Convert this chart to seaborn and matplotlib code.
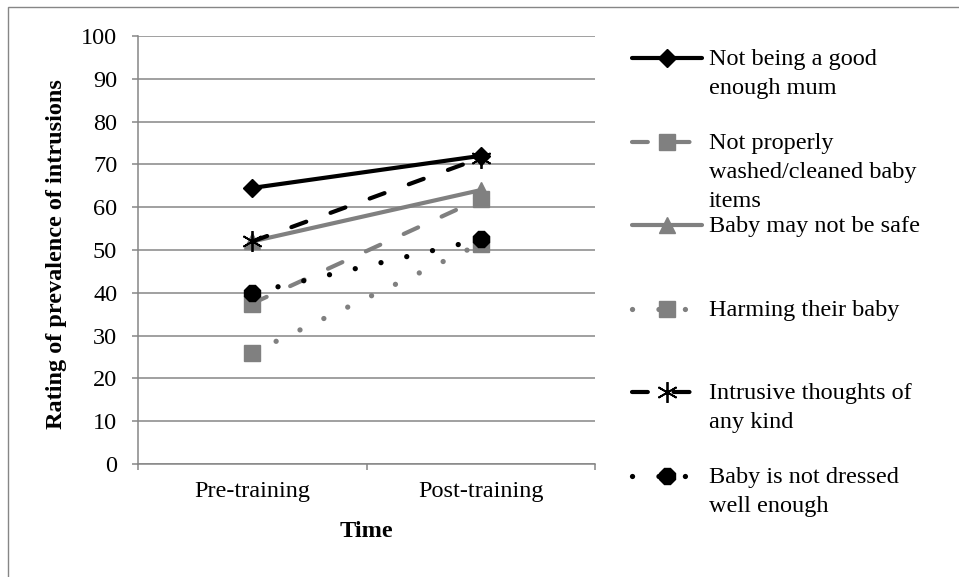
import matplotlib
matplotlib.use("Agg")
import matplotlib.pyplot as plt
import seaborn as sns
import numpy as np
import pandas as pd
from matplotlib.lines import Line2D
from matplotlib.patches import Rectangle
from matplotlib.ticker import FixedLocator

# ---------------- data ----------------
times = ["Pre-training", "Post-training"]
series_names = [
    "Not being a good enough mum",
    "Not properly washed/cleaned baby items",
    "Baby may not be safe",
    "Harming their baby",
    "Intrusive thoughts of any kind",
    "Baby is not dressed well enough",
]
legend_labels = [
    "Not being a good\nenough mum",
    "Not properly\nwashed/cleaned baby\nitems",
    "Baby may not be safe",
    "Harming their baby",
    "Intrusive thoughts of\nany kind",
    "Baby is not dressed\nwell enough",
]
mum = [64.5, 72.0]
washed = [37.5, 62.0]
safe = [52.0, 64.0]
harming = [26.0, 51.5]
intrusive = [52.0, 71.5]
dressed = [40.0, 52.5]
values = [mum, washed, safe, harming, intrusive, dressed]
y_ticks = list(range(0, 101, 10))
x_title = "Time"
y_title = "Rating of prevalence of intrusions"

rows = []
for name, vals in zip(series_names, values):
    for i, (t, v) in enumerate(zip(times, vals)):
        rows.append({"series": name, "time": t, "pos": i, "value": v})
df = pd.DataFrame(rows)

# ---------------- styles ----------------
BLACK = "#000000"
GREY = "#808080"
GRID = "#868686"
dash_pat = (3.8, 6.2)
dot_pat = (0.01, 5.0)
styles = [
    dict(color=BLACK, lw=3.0, linestyle="-", marker="D", ms=9, mew=1),
    dict(color=GREY, lw=3.0, linestyle=(0, dash_pat), marker="s", ms=12, mew=1),
    dict(color=GREY, lw=3.0, linestyle="-", marker="^", ms=12, mew=1),
    dict(color=GREY, lw=3.8, linestyle=(0, dot_pat), marker="s", ms=12, mew=1),
    dict(color=BLACK, lw=3.0, linestyle=(0, dash_pat), marker=(6, 2, 0), ms=15, mew=1.3),
    dict(color=BLACK, lw=3.8, linestyle=(0, dot_pat), marker="8", ms=13, mew=1),
]

sns.set_theme(style="white")
plt.rcParams["font.family"] = ["Liberation Serif", "DejaVu Serif"]
FS = 17.5

W, H = 959, 577
fig = plt.figure(figsize=(W / 100, H / 100), dpi=100)
ax = fig.add_axes([138 / W, 1 - 464 / H, 457 / W, 428 / H])

for name, st in zip(series_names, styles):
    sub = df[df["series"] == name]
    sns.lineplot(
        data=sub, x="pos", y="value", ax=ax, legend=False, sort=False,
        color=st["color"], linewidth=st["lw"], linestyle=st["linestyle"],
        dash_capstyle="round", solid_capstyle="butt",
        marker=st["marker"], markersize=st["ms"],
        markerfacecolor=st["color"], markeredgecolor=st["color"],
        markeredgewidth=st["mew"], clip_on=False,
    )

ax.set_xlim(-0.5, len(times) - 0.5)
ax.set_ylim(0, 100)
ax.set_yticks(y_ticks)
ax.set_xticks(range(len(times)))
ax.set_xticklabels(times)
ax.xaxis.set_minor_locator(FixedLocator(np.arange(-0.5, len(times), 1.0)))
ax.tick_params(axis="x", which="major", length=0, pad=12, labelsize=FS, labelcolor="black")
ax.tick_params(axis="x", which="minor", length=4, width=1.1, color=GRID, direction="out", bottom=True)
ax.tick_params(axis="y", which="major", length=4, width=1.1, color=GRID, direction="out",
               pad=11, labelsize=FS, labelcolor="black", left=True)

ax.yaxis.grid(True, color=GRID, lw=1.1)
ax.xaxis.grid(False)
ax.set_axisbelow(True)
for s in ["top", "right"]:
    ax.spines[s].set_visible(False)
for s in ["left", "bottom"]:
    ax.spines[s].set_color(GRID)
    ax.spines[s].set_linewidth(1.1)

ax.set_xlabel(x_title, fontsize=FS, fontweight="bold", color="black")
ax.set_ylabel(y_title, fontsize=FS, fontweight="bold", color="black")
ax.xaxis.set_label_coords(0.5, (464 - 521) / 428)
ax.yaxis.set_label_coords((67 - 138) / 457, (464 - 254) / 428)

# ---------------- legend ----------------
def fx(px):
    return px / W

def fy(py):
    return 1 - py / H

for i, (lab, st) in enumerate(zip(legend_labels, styles)):
    yy = 58 + 83.6 * i
    ln = Line2D([fx(632), fx(702)], [fy(yy), fy(yy)], transform=fig.transFigure,
                color=st["color"], lw=st["lw"], linestyle=st["linestyle"],
                dash_capstyle="round", solid_capstyle="round")
    mk = Line2D([fx(667)], [fy(yy)], transform=fig.transFigure, linestyle="none",
                marker=st["marker"], markersize=st["ms"], color=st["color"],
                markerfacecolor=st["color"], markeredgecolor=st["color"],
                markeredgewidth=st["mew"])
    fig.add_artist(ln)
    fig.add_artist(mk)
    fig.text(fx(709), fy(yy - 9), lab, fontsize=FS, va="top", ha="left",
             color="black", linespacing=1.5)

# outer border
fig.add_artist(Rectangle((fx(8), fy(620)), fx(1100), (620 - 7) / H,
                         transform=fig.transFigure, fill=False,
                         edgecolor=GRID, lw=1.0, clip_on=False))

fig.savefig("out.png", dpi=100)
